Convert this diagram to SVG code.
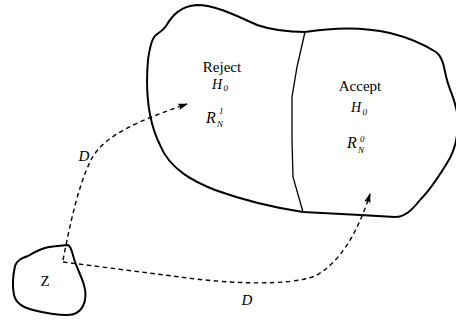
<svg xmlns="http://www.w3.org/2000/svg" width="456" height="323" viewBox="0 0 456 323">
<style>
.blob{fill:none;stroke:#000;stroke-width:2;stroke-linejoin:round}
.div{fill:none;stroke:#000;stroke-width:1.3}
.dash{fill:none;stroke:#000;stroke-width:1.4;stroke-dasharray:4.5 3.5}
.t{font-family:"Liberation Serif","Times New Roman",serif;fill:#000}
.i{font-style:italic}
</style>
<defs>
<marker id="ah" markerWidth="10" markerHeight="8" refX="9" refY="4" orient="auto" markerUnits="userSpaceOnUse">
<path d="M0,0.8 L10,4 L0,7.2 L2,4 Z" fill="#000"/>
</marker>
</defs>
<rect width="456" height="323" fill="#fff"/>
<g id="region">
<path class="blob" d="M305,32 C330,28 360,26 390,33 C410,38 425,45 436,52 C444,58 444,70 447,80 C450,92 458,105 458,122 C458,138 455,148 450,158 C440,175 430,190 420,200 C412,210 405,217 395,217 L360,215 L303,212 C270,207 240,199 215,190 C195,182 170,170 160,145 C150,125 145,95 148,60 C150,45 152,38 156,35 C160,32 163,30 166,26 C172,16 180,6 197,5 C215,5 235,15 257,25 C275,31 290,32 305,32 Z"/>
<path class="div" d="M305,32 L297,67 L292,97 L292,140 L293,177 L303,212"/>
</g>
<g id="reject">
<text class="t" x="222" y="72" font-size="15" text-anchor="middle">Reject</text>
<text class="t i" x="212" y="88.5" font-size="14">H</text>
<text class="t i" x="223.5" y="91" font-size="9">0</text>
<text class="t i" x="206" y="123" font-size="16">R</text>
<text class="t i" x="219" y="114" font-size="9">1</text>
<text class="t i" x="217" y="126.5" font-size="9">N</text>
</g>
<g id="accept">
<text class="t" x="360" y="91" font-size="15" text-anchor="middle">Accept</text>
<text class="t i" x="351" y="112" font-size="14">H</text>
<text class="t i" x="362.5" y="114.5" font-size="9">0</text>
<text class="t i" x="347" y="148" font-size="16">R</text>
<text class="t i" x="360" y="142" font-size="9">0</text>
<text class="t i" x="358" y="152.5" font-size="9">N</text>
</g>
<g id="z">
<path class="blob" d="M68,245 C60,246 52,246 45,248 C38,250 33,253 28,256 C22,258 17,260 15,266 C13,275 12,285 14,295 C16,303 22,307 33,310 C45,313 58,315 67,315 C75,315 80,312 83,306 C86,300 86,292 84,285 C82,278 78,270 75,262 C73,256 72,250 70,247 Z"/>
<text class="t" x="45" y="286" font-size="15" text-anchor="middle">Z</text>
</g>
<g id="connectors">
<path class="dash" d="M63,260 C70,225 78,185 92,158 C105,135 140,120 187,104" marker-end="url(#ah)"/>
<path class="dash" d="M63,262 L180,277 C230,284 290,286 315,276 C340,263 358,232 370,194" marker-end="url(#ah)"/>
<text class="t i" x="84" y="161" font-size="15" text-anchor="middle">D</text>
<text class="t i" x="247" y="305" font-size="15" text-anchor="middle">D</text>
</g>
</svg>
